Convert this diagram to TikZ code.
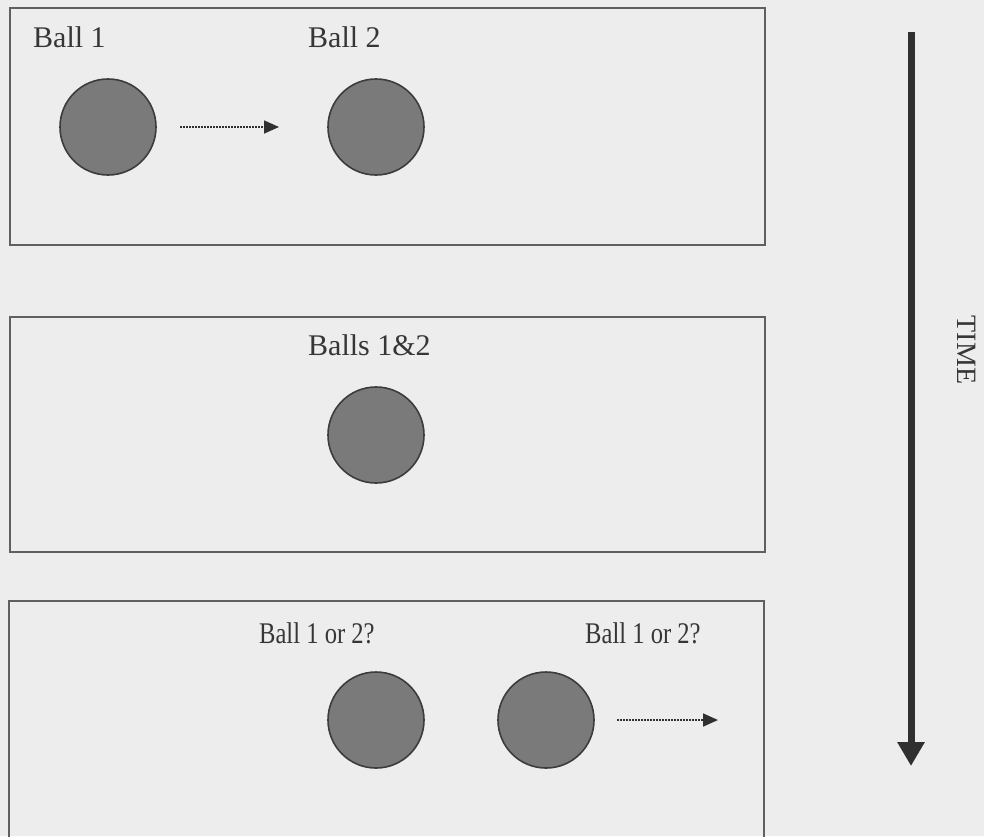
\documentclass[tikz,border=0pt]{standalone}
\usepackage{fontspec}
\setmainfont{Liberation Serif}
\usetikzlibrary{arrows.meta}
\definecolor{bg}{HTML}{EDEDED}
\definecolor{boxline}{HTML}{606060}
\definecolor{ballfill}{HTML}{7A7A7A}
\definecolor{ballline}{HTML}{3C3C3C}
\definecolor{inktext}{HTML}{363636}
\definecolor{timeink}{HTML}{303030}
\tikzset{
  panel/.style={draw=boxline, line width=2pt},
  ball/.style={circle, draw=ballline, fill=ballfill, line width=1.6pt, minimum size=96pt, inner sep=0pt},
  lbl/.style={anchor=base west, inner sep=0pt, text=inktext, font=\fontsize{30}{36}\selectfont},
  lblnarrow/.style={lbl, xscale=0.82},
  motion/.style={draw=timeink, line width=1.6pt, dash pattern=on 1.6pt off 1.4pt, -{Triangle[length=15pt,width=13pt]}},
  timearrow/.style={draw=timeink, line width=7pt, -{Triangle[length=24pt,width=26pt]}},
}
\begin{document}
\begin{tikzpicture}[x=1pt,y=-1pt]
\clip (0,0) rectangle (984,836);
\fill[bg] (0,0) rectangle (984,836);
% panels
\draw[panel] (10,8) rectangle (765,245);
\draw[panel] (10,317) rectangle (765,552);
\draw[panel] (9,601) rectangle (764,850);
% panel 1
\node[lbl] (l1) at (33,47) {Ball 1};
\node[lbl] (l2) at (308,47) {Ball 2};
\node[ball] (b1) at (108,127) {};
\node[ball] (b2) at (376,127) {};
\coordinate (a1s) at (180,127);
\coordinate (a1e) at (279,127);
\draw[motion] (a1s) -- (a1e);
% panel 2
\node[lbl] (l3) at (308,355) {Balls 1\&2};
\node[ball] (b12) at (376,435) {};
% panel 3
\node[lblnarrow] (l4) at (259,643) {Ball 1 or 2?};
\node[lblnarrow] (l5) at (585,643) {Ball 1 or 2?};
\node[ball] (b3) at (376,720) {};
\node[ball] (b4) at (546,720) {};
\coordinate (a2s) at (617,720);
\coordinate (a2e) at (718,720);
\draw[motion] (a2s) -- (a2e);
% time arrow
\coordinate (ts) at (911,32);
\coordinate (te) at (911,766);
\draw[timearrow] (ts) -- (te);
\node[rotate=-90, text=inktext, font=\fontsize{28}{32}\selectfont, inner sep=0pt] (time) at (967,350) {TIME};
\end{tikzpicture}
\end{document}
